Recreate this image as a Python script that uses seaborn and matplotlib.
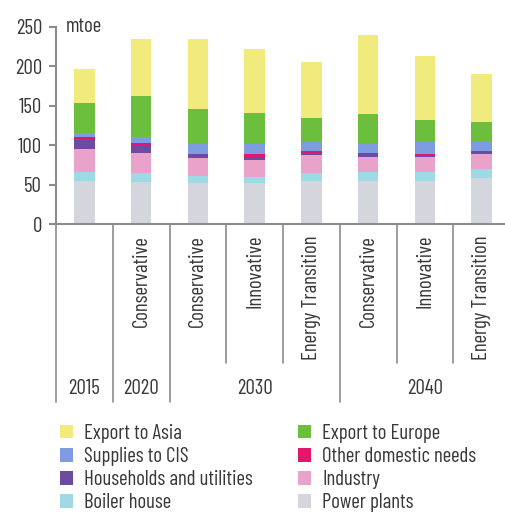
import matplotlib
matplotlib.use("Agg")
import matplotlib.pyplot as plt
from matplotlib.patches import Patch
from matplotlib.lines import Line2D
import seaborn as sns
import numpy as np
import pandas as pd

# ---- data ----
years = ["2015", "2020", "2030", "2030", "2030", "2040", "2040", "2040"]
scenarios = ["", "Conservative", "Conservative", "Innovative", "Energy Transition",
             "Conservative", "Innovative", "Energy Transition"]
series_names = ["Power plants", "Boiler house", "Industry", "Households and utilities",
                "Other domestic needs", "Supplies to CIS", "Export to Europe", "Export to Asia"]
power_plants = [54, 53, 52.6, 52.6, 54, 54, 54, 58]
boiler_house = [12.5, 12.3, 8.5, 6.8, 10.5, 12, 12, 12]
industry = [29, 24.7, 22.5, 22, 22.5, 19, 18.5, 19]
households = [13, 10.2, 5, 4.2, 3, 4.3, 3.5, 3.5]
other_domestic = [2, 2.5, 0.6, 3.3, 3, 0.5, 0.5, 0.5]
supplies_cis = [5.5, 8.3, 12.5, 12.8, 10.5, 11.5, 15, 11.5]
export_europe = [37.5, 51, 44.6, 39, 31.5, 38, 28, 25.5]
export_asia = [43, 73, 88.6, 82, 70, 100, 82, 60.5]
yticks = [0, 50, 100, 150, 200, 250]

colors = ["#d5d5dd", "#9fd9e6", "#e9a3cb", "#6b4c9e", "#e3166c", "#7f9ce3", "#6cbf3d", "#f1ea7c"]

series = [power_plants, boiler_house, industry, households, other_domestic,
          supplies_cis, export_europe, export_asia]
keys = [f"{y} {s}".strip() + f"#{i}" for i, (y, s) in enumerate(zip(years, scenarios))]
df = pd.DataFrame({"key": keys})
cum = np.zeros(len(keys))
for name, vals in zip(series_names, series):
    cum = cum + np.array(vals, dtype=float)
    df[name] = cum.copy()

sns.set_theme(style="white")
plt.rcParams["font.family"] = ["Barlow Condensed", "Liberation Sans", "DejaVu Sans"]
TXT = "#383838"
LINE = "#8c8c8c"
FS = 15

W, H = 505, 512
fig = plt.figure(figsize=(W / 100, H / 100), dpi=100)
x0, x1 = 56, 510
y_top, y_zero = 27, 224
ax = fig.add_axes([x0 / W, 1 - y_zero / H, (x1 - x0) / W, (y_zero - y_top) / H])

for name, col in reversed(list(zip(series_names, colors))):
    sns.barplot(data=df, x="key", y=name, order=keys, color=col, saturation=1,
                width=0.36, ax=ax, errorbar=None, linewidth=0)

ax.set_ylim(0, 250)
ax.set_xlim(-0.5, 7.5)
ax.set_yticks(yticks)
ax.set_yticklabels([str(t) for t in yticks], fontsize=FS, color=TXT)
ax.set_xticks([])
ax.set_xlabel("")
ax.set_ylabel("")
for s in ["top", "right"]:
    ax.spines[s].set_visible(False)
for s in ["left", "bottom"]:
    ax.spines[s].set_color(LINE)
    ax.spines[s].set_linewidth(1.5)
ax.tick_params(axis="y", direction="out", length=5, width=1.5, color=LINE, pad=5, left=True)

ax.text(0.022, 1.0, "mtoe", transform=ax.transAxes, fontsize=FS, color=TXT,
        ha="left", va="center")

# category separators below the axis
axis_h = y_zero - y_top
short_y = -(363 - y_zero) / axis_h
long_y = -(402 - y_zero) / axis_h
trans = matplotlib.transforms.blended_transform_factory(ax.transData, ax.transAxes)
long_seps = {-0.5, 0.5, 1.5, 4.5, 7.5}
for b in np.arange(-0.5, 8.0, 1.0):
    yb = long_y if b in long_seps else short_y
    ax.add_line(Line2D([b, b], [0, yb], transform=trans, color=LINE, lw=1.2, clip_on=False))

label_top = -(235 - y_zero) / axis_h
for i, s in enumerate(scenarios):
    if s:
        ax.text(i, label_top, s, transform=trans, rotation=90, ha="center", va="top",
                fontsize=FS, color=TXT)

year_y = -(388 - y_zero) / axis_h
year_groups = [("2015", 0, 0), ("2020", 1, 1), ("2030", 2, 4), ("2040", 5, 7)]
for lab, a, b in year_groups:
    ax.text((a + b) / 2, year_y, lab, transform=trans, ha="center", va="center",
            fontsize=FS, color=TXT)

# legend
order = ["Export to Asia", "Supplies to CIS", "Households and utilities", "Boiler house",
         "Export to Europe", "Other domestic needs", "Industry", "Power plants"]
cmap = dict(zip(series_names, colors))
handles = [Patch(facecolor=cmap[n], edgecolor="none", label=n) for n in order]
fig.legend(handles=handles, ncol=2, loc="upper left", bbox_to_anchor=(60 / W, 1 - 424 / H),
           frameon=False, fontsize=FS, labelcolor=TXT, handlelength=0.62, handleheight=0.62,
           handletextpad=0.55, columnspacing=2.15, labelspacing=0.2, borderaxespad=0,
           borderpad=0)

fig.savefig("out.png", dpi=100, facecolor="white")
